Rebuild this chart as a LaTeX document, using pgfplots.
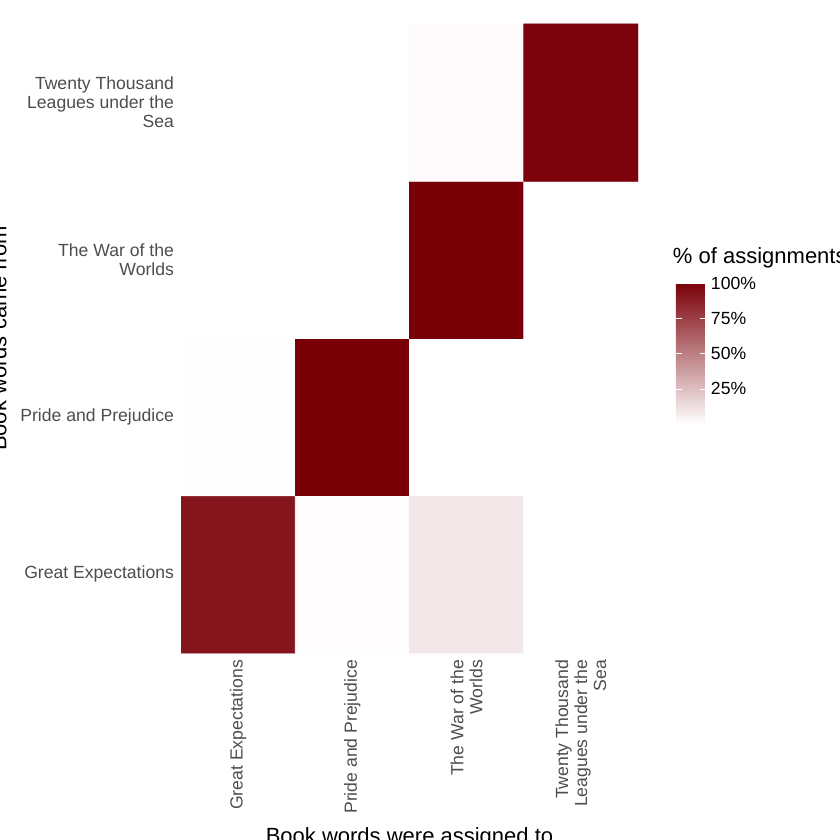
\documentclass[border=0pt]{standalone}
\usepackage{pgfplots}
\pgfplotsset{compat=1.18}
\usepackage{fontspec}
\setmainfont{Liberation Sans}
\definecolor{dr}{RGB}{122,0,8}
\definecolor{tk}{RGB}{77,77,77}
\begin{document}
\begin{tikzpicture}[x=1pt,y=1pt]
\useasboundingbox (0,0) rectangle (420,420);
\begin{axis}[at={(90.5pt,93.5pt)}, anchor=south west, scale only axis,
 width=228.5pt, height=314.5pt, axis line style={draw=none},
 xmin=-0.5,xmax=3.5,ymin=-0.5,ymax=3.5,
 xtick={0,1,2,3}, ytick={0,1,2,3}, major tick length=0pt,
 xticklabels={{Great Expectations},{Pride and Prejudice},{The War of the\\Worlds},{Twenty Thousand\\Leagues under the\\Sea}},
 yticklabels={{Great Expectations},{Pride and Prejudice},{The War of the\\Worlds},{Twenty Thousand\\Leagues under the\\Sea}},
 xticklabel style={rotate=90, anchor=east, align=right, font=\fontsize{8.8}{9.5}\selectfont, text=tk},
 yticklabel style={align=right, font=\fontsize{8.8}{9.5}\selectfont, text=tk},
 xlabel={Book words were assigned to}, ylabel={Book words came from},
 label style={font=\fontsize{11}{12}\selectfont},
 colormap={wr}{color(0)=(white) color(1)=(dr)},
 point meta min=0, point meta max=1,
 colorbar,
 colorbar style={width=15pt, height=70.5pt, at={(1.083,0.476)}, anchor=west,
   axis line style={draw=none}, ymin=0, ymax=1,
   ytick={0.25,0.5,0.75,1}, yticklabels={25\%,50\%,75\%,100\%},
   major tick length=3pt, tick style={white},
   yticklabel style={font=\fontsize{8.8}{9.5}\selectfont, xshift=-1pt},
   title={\% of assignments}, title style={font=\fontsize{11}{12}\selectfont, anchor=south west, at={(0,1)}, xshift=-5pt, yshift=-2pt}},
]
\addplot[matrix plot*, mesh/cols=4, point meta=explicit] coordinates {
(0,0) [0.91] (1,0) [0.01] (2,0) [0.09] (3,0) [0]

(0,1) [0.005] (1,1) [1] (2,1) [0] (3,1) [0]

(0,2) [0] (1,2) [0] (2,2) [1] (3,2) [0]

(0,3) [0] (1,3) [0] (2,3) [0.015] (3,3) [0.985]
};
\end{axis}
\end{tikzpicture}
\end{document}
